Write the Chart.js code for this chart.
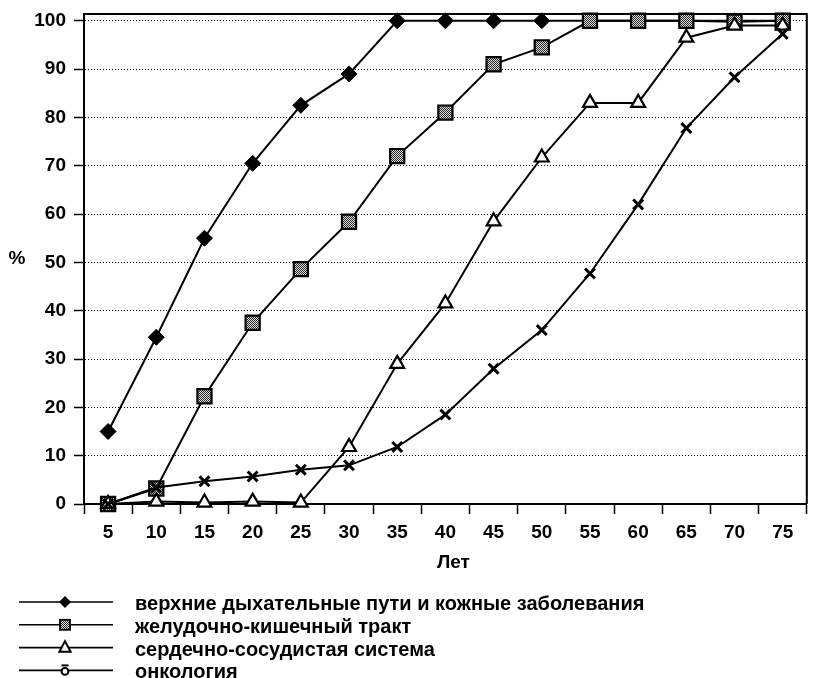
<!DOCTYPE html>
<html>
<head>
<meta charset="utf-8">
<script src="https://cdn.jsdelivr.net/npm/chart.js@4.4.1/dist/chart.umd.min.js"></script>
<style>
  html, body { margin: 0; padding: 0; background: #fff; }
  #wrap { width: 819px; height: 678px; position: relative; }
</style>
</head>
<body>
<div id="wrap"><canvas id="chart" width="819" height="678"></canvas></div>
<script>
// Age groups (years) along the horizontal axis
const ages = ['5', '10', '15', '20', '25', '30', '35', '40', '45', '50', '55', '60', '65', '70', '75'];
// Percent ticks on the vertical axis
const percentTicks = [0, 10, 20, 30, 40, 50, 60, 70, 80, 90, 100];

const seriesNames = [
  'верхние дыхательные пути и кожные заболевания',
  'желудочно-кишечный тракт',
  'сердечно-сосудистая система',
  'онкология'
];

// Cumulative share of cases, %
const respiratorySkin = [15, 34.5, 55, 70.5, 82.5, 89, 100, 100, 100, 100, 100, 100, 100, 100, 100];
const digestive      = [0, 3.2, 22.3, 37.5, 48.6, 58.4, 72, 81, 91, 94.5, 100, 100, 100, 99.8, 100];
const cardiovascular = [0, 0.5, 0.3, 0.5, 0.3, 11.8, 29, 41.5, 58.5, 71.7, 83, 83, 96.5, 99, 99];
const oncology       = [0, 3.4, 4.7, 5.7, 7.1, 8, 11.8, 18.5, 28, 36, 47.7, 62, 77.8, 88.3, 97.3];

const FONT = '"Liberation Sans", Arial, Helvetica, sans-serif';
const FONT_SIZE = 19;

// Halftone-like grey fill for the square markers
function makeHatch() {
  const c = document.createElement('canvas');
  c.width = 2; c.height = 2;
  const g = c.getContext('2d');
  g.fillStyle = '#dcdcdc'; g.fillRect(0, 0, 2, 2);
  g.fillStyle = '#2a2a2a'; g.fillRect(0, 0, 1, 1); g.fillRect(1, 1, 1, 1);
  return g.createPattern(c, 'repeat');
}
const hatch = makeHatch();

// Small legend markers
function legendMarker(ctx, kind, x, y) {
  ctx.save();
  ctx.strokeStyle = '#000';
  ctx.lineWidth = 2;
  if (kind === 'diamond') {
    const r = 6;
    ctx.fillStyle = '#000';
    ctx.beginPath();
    ctx.moveTo(x, y - r); ctx.lineTo(x + r, y); ctx.lineTo(x, y + r); ctx.lineTo(x - r, y);
    ctx.closePath(); ctx.fill();
  } else if (kind === 'square') {
    const h = 5;
    ctx.fillStyle = hatch;
    ctx.fillRect(x - h, y - h, 2 * h, 2 * h);
    ctx.lineWidth = 1.8;
    ctx.strokeRect(x - h, y - h, 2 * h, 2 * h);
  } else if (kind === 'triangle') {
    const r = 6.5;
    ctx.fillStyle = '#fff';
    ctx.beginPath();
    ctx.moveTo(x, y - r);
    ctx.lineTo(x + r * 0.866, y + r * 0.5 + 1);
    ctx.lineTo(x - r * 0.866, y + r * 0.5 + 1);
    ctx.closePath(); ctx.fill(); ctx.stroke();
  } else {
    ctx.fillStyle = '#fff';
    ctx.lineWidth = 2;
    ctx.beginPath(); ctx.arc(x, y + 1, 3.4, 0, Math.PI * 2); ctx.fill(); ctx.stroke();
    ctx.beginPath(); ctx.moveTo(x - 3.5, y - 5); ctx.lineTo(x + 3.5, y - 5); ctx.stroke();
  }
  ctx.restore();
}

const frameAndLabels = {
  id: 'frameAndLabels',
  afterDraw(chart) {
    const { ctx, chartArea: a } = chart;
    ctx.save();
    // top and right frame of the plot area
    ctx.strokeStyle = '#000';
    ctx.lineWidth = 2;
    ctx.beginPath();
    ctx.moveTo(a.left, a.top); ctx.lineTo(a.right, a.top); ctx.lineTo(a.right, a.bottom);
    ctx.stroke();

    ctx.fillStyle = '#000';
    ctx.font = 'bold ' + FONT_SIZE + 'px ' + FONT;
    ctx.textAlign = 'center';
    ctx.textBaseline = 'middle';
    // axis captions
    ctx.fillText('%', 17, (a.top + a.bottom) / 2);
    ctx.fillText('Лет', (a.left + a.right) / 2 + 8, a.bottom + 59);

    // legend
    const kinds = ['diamond', 'square', 'triangle', 'cross'];
    ctx.font = 'bold 20px ' + FONT;
    ctx.textAlign = 'left';
    ctx.textBaseline = 'alphabetic';
    seriesNames.forEach((name, i) => {
      const yLine = a.bottom + 98 + i * 22.8;
      ctx.strokeStyle = '#000';
      ctx.lineWidth = 1.6;
      ctx.beginPath(); ctx.moveTo(19, yLine); ctx.lineTo(113, yLine); ctx.stroke();
      legendMarker(ctx, kinds[i], 65, yLine);
      ctx.fillStyle = '#000';
      ctx.fillText(name, 135, yLine + 8);
    });
    ctx.restore();
  }
};

const tickFont = { family: FONT, size: FONT_SIZE, weight: 'bold' };

new Chart(document.getElementById('chart'), {
  type: 'line',
  data: {
    labels: ages,
    datasets: [
      {
        label: seriesNames[0], data: respiratorySkin, order: 4,
        borderColor: '#000', borderWidth: 2, tension: 0,
        pointStyle: 'rectRot', pointRadius: 8, pointBorderWidth: 1,
        pointBackgroundColor: '#000', pointBorderColor: '#000', clip: false
      },
      {
        label: seriesNames[1], data: digestive, order: 3,
        borderColor: '#000', borderWidth: 2, tension: 0,
        pointStyle: 'rect', pointRadius: 10, pointBorderWidth: 2.2,
        pointBackgroundColor: hatch, pointBorderColor: '#000', clip: false
      },
      {
        label: seriesNames[2], data: cardiovascular, order: 2,
        borderColor: '#000', borderWidth: 2, tension: 0,
        pointStyle: 'triangle', pointRadius: 8, pointBorderWidth: 2.2,
        pointBackgroundColor: '#fff', pointBorderColor: '#000', clip: false
      },
      {
        label: seriesNames[3], data: oncology, order: 1,
        borderColor: '#000', borderWidth: 2, tension: 0,
        pointStyle: 'crossRot', pointRadius: 7, pointBorderWidth: 3,
        pointBackgroundColor: '#000', pointBorderColor: '#000', clip: false
      }
    ]
  },
  options: {
    responsive: false,
    devicePixelRatio: 1,
    animation: false,
    events: [],
    layout: { padding: { top: 14, right: 1, left: 0, bottom: 104 } },
    plugins: { legend: { display: false }, tooltip: { enabled: false } },
    scales: {
      x: {
        type: 'category',
        offset: true,
        grid: {
          offset: true, drawOnChartArea: false, drawTicks: true,
          tickLength: 10, tickColor: '#000', tickWidth: 1.5
        },
        border: { display: true, color: '#000', width: 2 },
        ticks: { font: tickFont, color: '#000', padding: 7, maxRotation: 0, autoSkip: false },
        afterFit(scale) { scale.height = 70; }
      },
      y: {
        min: 0,
        max: 101.4,
        afterBuildTicks(scale) { scale.ticks = percentTicks.map(v => ({ value: v })); },
        grid: {
          color: '#000', lineWidth: 1,
          drawTicks: true, tickLength: 10, tickColor: '#000', tickWidth: 1.5, tickBorderDash: []
        },
        border: { display: true, color: '#000', width: 2, dash: [1, 2] },
        ticks: { font: tickFont, color: '#000', padding: 8 },
        afterFit(scale) {
          scale.width = 84;
          // the outer layout padding already leaves room for the end labels
          scale.paddingTop = 0;
          scale.paddingBottom = 0;
        }
      }
    }
  },
  plugins: [frameAndLabels]
});
</script>
</body>
</html>
